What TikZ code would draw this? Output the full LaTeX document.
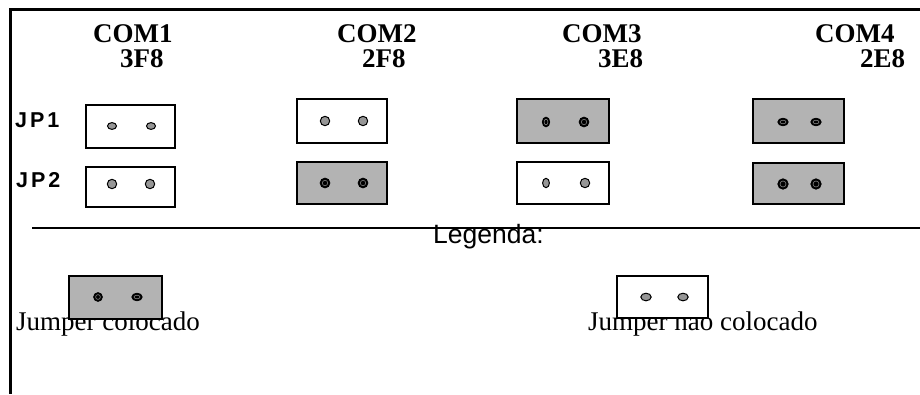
\documentclass[tikz,border=0pt]{standalone}
\usepackage{fontspec}
\setmainfont{Liberation Serif}
\newfontfamily\arialfont{Liberation Sans}
\definecolor{boxgray}{RGB}{179,179,179}
\definecolor{pingray}{RGB}{150,150,150}
\definecolor{ringgray}{RGB}{130,130,130}
\tikzset{
  jbox/.style={draw=black, line width=1.8pt, inner sep=0pt, rectangle},
  onbox/.style={jbox, fill=boxgray},
  offbox/.style={jbox, fill=white},
  comlbl/.style={anchor=base west, inner sep=0pt, font=\fontsize{27}{27}\selectfont\bfseries},
  jplbl/.style={anchor=base west, inner sep=0pt, font=\fontsize{21.5}{21.5}\selectfont\arialfont\bfseries},
  leglbl/.style={anchor=base west, inner sep=0pt, font=\fontsize{27}{27}\selectfont},
  graypin/.style={fill=pingray, draw=black, line width=1pt},
  blackpin/.style={fill=black, draw=black, line width=0.8pt},
  frame/.style={draw=black, line width=3pt}
}
\newcommand{\bpin}[3]{% centre, outer radii, ring radii
  \path[blackpin] (#1) ellipse [#2];
  \draw[ringgray, line width=0.6pt] (#1) ellipse [#3];
}
\begin{document}
\begin{tikzpicture}[x=1pt, y=-1pt]
\useasboundingbox (0,0) rectangle (920,394);
% frame
\coordinate (tl) at (10,9);
\coordinate (tr) at (920,9);
\coordinate (bl) at (10,394);
\draw[frame] (tr) -- (tl) -- (bl);
\coordinate (ll) at (32,228);
\coordinate (lr) at (920,228);
\draw[draw=black, line width=2.2pt] (ll) -- (lr);

% headers
\node[comlbl] (com1) at (93,42) {COM1};
\node[comlbl] (adr1) at (120,67.5) {3F8};
\node[comlbl] (com2) at (337,42) {COM2};
\node[comlbl] (adr2) at (362,67.5) {2F8};
\node[comlbl] (com3) at (562,42) {COM3};
\node[comlbl] (adr3) at (598,67.5) {3E8};
\node[comlbl] (com4) at (815,42) {COM4};
\node[comlbl] (adr4) at (860,67.5) {2E8};

\node[jplbl] (jp1) at (15,127) {J\hspace{3pt}P\hspace{3pt}1};
\node[jplbl] (jp2) at (16,187) {J\hspace{3pt}P\hspace{3pt}2};

% legend texts (drawn before boxes, which cover them)
\node[anchor=base west, inner sep=0pt, font=\fontsize{26.5}{26.5}\selectfont\arialfont] (legenda) at (433,243) {Legenda:};
\node[leglbl] (jcol) at (16,330) {Jumper colocado};
\node[leglbl] (jnao) at (588,330) {Jumper não colocado};

% jumper boxes
\node[offbox, minimum width=89pt, minimum height=43pt] (c1j1) at (130.5,126.5) {};
\node[offbox, minimum width=89pt, minimum height=40pt] (c1j2) at (130.5,187) {};
\node[offbox, minimum width=90pt, minimum height=44pt] (c2j1) at (342,121) {};
\node[onbox,  minimum width=90pt, minimum height=42pt] (c2j2) at (342,183) {};
\node[onbox,  minimum width=92pt, minimum height=44pt] (c3j1) at (563,121) {};
\node[offbox, minimum width=92pt, minimum height=42pt] (c3j2) at (563,183) {};
\node[onbox,  minimum width=91pt, minimum height=44pt] (c4j1) at (798.5,121) {};
\node[onbox,  minimum width=91pt, minimum height=41pt] (c4j2) at (798.5,183.5) {};
\node[onbox,  minimum width=93pt, minimum height=43pt] (leg1) at (115.5,297.5) {};
\node[offbox, minimum width=91pt, minimum height=42pt] (leg2) at (662.5,297) {};

% pins
\path[graypin] (112,126) ellipse [x radius=4.5pt, y radius=3.4pt];
\path[graypin] (151,126) ellipse [x radius=4.5pt, y radius=3.4pt];
\path[graypin] (112,184) circle [radius=4.7pt];
\path[graypin] (150,184) circle [radius=4.7pt];
\path[graypin] (325,121) circle [radius=4.7pt];
\path[graypin] (363,121) circle [radius=4.7pt];
\bpin{325,183}{radius=4.9pt}{radius=2.7pt}
\bpin{363,183}{radius=4.9pt}{radius=2.7pt}
\bpin{546,122}{x radius=3.7pt, y radius=4.9pt}{x radius=1.9pt, y radius=2.9pt}
\bpin{584,122}{radius=4.9pt}{radius=2.7pt}
\path[graypin] (546,183) ellipse [x radius=3.4pt, y radius=4.7pt];
\path[graypin] (585,183) circle [radius=4.7pt];
\bpin{783,122}{x radius=5.2pt, y radius=3.8pt}{x radius=3pt, y radius=1.8pt}
\bpin{816,122}{x radius=5.2pt, y radius=3.8pt}{x radius=3pt, y radius=1.8pt}
\bpin{783,184}{radius=5.2pt}{radius=3pt}
\bpin{816,184}{radius=5.2pt}{radius=3pt}
\bpin{98,297}{radius=4.4pt}{radius=2.4pt}
\bpin{137,297}{x radius=5.2pt, y radius=3.8pt}{x radius=3pt, y radius=1.8pt}
\path[graypin] (646,297) ellipse [x radius=5.2pt, y radius=3.8pt];
\path[graypin] (683,297) ellipse [x radius=5.2pt, y radius=3.8pt];
\end{tikzpicture}
\end{document}
